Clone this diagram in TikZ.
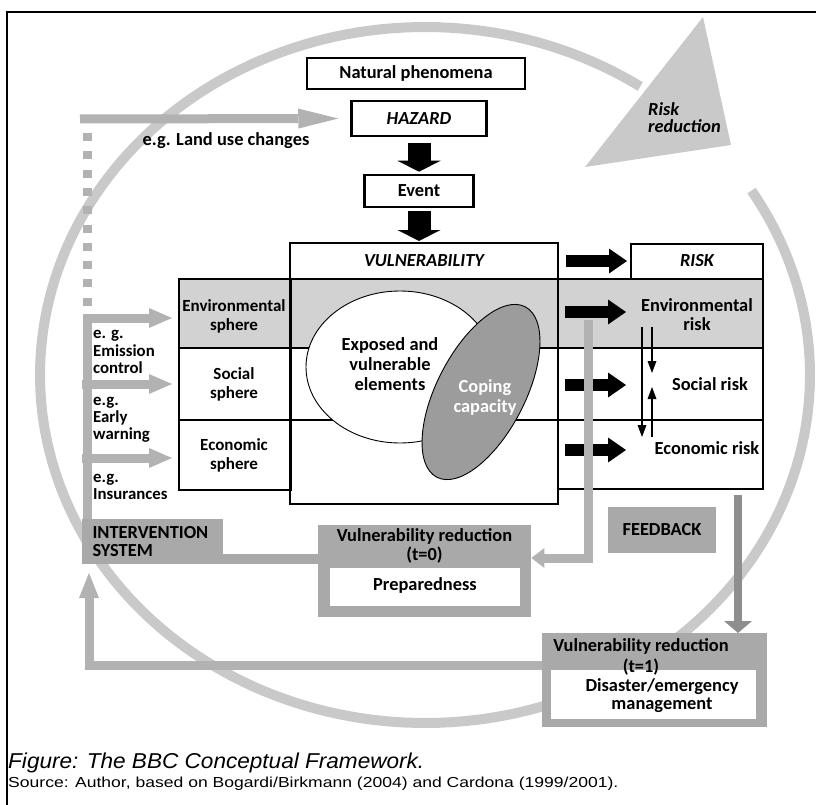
\documentclass[tikz,border=0pt]{standalone}
\usepackage{fontspec}
\setmainfont{Carlito}
\newfontfamily\capfont{Liberation Sans}
\usetikzlibrary{positioning,calc,arrows.meta,shapes.geometric}

\definecolor{cyclegray}{HTML}{C9C9C9}
\definecolor{bandgray}{HTML}{D2D2D2}
\definecolor{boxgray}{HTML}{A9A9A9}
\definecolor{linkgray}{HTML}{B2B2B2}
\definecolor{copegray}{HTML}{9C9C9C}
\definecolor{fbgray}{HTML}{8E8E8E}

\tikzset{
  figfont/.style={font=\fontsize{18.4}{20}\selectfont\bfseries},
  figfontit/.style={font=\fontsize{18.4}{20}\selectfont\bfseries\itshape},
  spherefont/.style={font=\fontsize{17}{19}\selectfont\bfseries},
  labelfont/.style={font=\fontsize{16.8}{17.2}\selectfont\bfseries},
  figbox/.style={draw, line width=1.5pt, fill=white, inner sep=0pt},
  figboxthick/.style={figbox, line width=2.5pt},
  figframe/.style={draw, line width=2pt, inner sep=0pt, anchor=north west},
  figgraybox/.style={fill=boxgray, inner sep=0pt},
  figarrowblack/.style={line width=23pt, -{Triangle[length=11pt,width=43pt,line width=0pt]}},
  figarrowside/.style={line width=12pt, -{Triangle[length=18pt,width=25pt,line width=0pt]}},
  figarrowgray/.style={draw=linkgray, line width=9pt, -{Triangle[length=23pt,width=20pt,line width=0pt]}},
  figarrowthin/.style={line width=2pt, -{Triangle[length=12pt,width=9pt,line width=0pt]}},
}

\begin{document}
\begin{tikzpicture}[x=1pt, y=-1pt, figfont]
  \useasboundingbox (0,0) rectangle (816,805);
  % Frame
  \draw[line width=1.6pt] (816,12) -- (7,12) -- (7,805);

  % Risk reduction cycle
  \draw[cyclegray, line width=10pt] plot[domain=56:392, samples=200] ({425+385*cos(\x)}, {375-348*sin(\x)});
  \fill[cyclegray] (703,17) -- (585,167) -- (731,145) -- cycle;
  \node[align=left, anchor=west, inner sep=0pt, font=\fontsize{18.4}{17}\selectfont\bfseries\itshape] (riskred) at (648,118) {Risk\\reduction};

  % Hazard chain
  \node[figbox, minimum width=218pt, minimum height=31pt] (nat) at (416,73.5) {Natural phenomena};
  \node[figboxthick, figfontit, minimum width=135pt, minimum height=35pt] (haz) at (419,118.5) {HAZARD};
  \node[figboxthick, minimum width=109pt, minimum height=32pt] (event) at (419,191) {Event};

  % Spheres, vulnerability and risk columns
  \fill[bandgray] (178,278) rectangle (762,348);
  \draw[line width=1.2pt] (178,348) -- (762,348) (178,420) -- (762,420);
  \node[figframe, minimum width=112pt, minimum height=211pt] (sph) at (178,278) {};
  \node[figframe, fill=white, figfontit, minimum width=268pt, minimum height=36pt] (vulhead) at (289,242) {VULNERABILITY};
  \node[figframe, minimum width=268pt, minimum height=225pt] (vul) at (289,278) {};
  \node[figframe, minimum width=205pt, minimum height=210pt] (risk) at (557,278) {};
  \node[figframe, fill=white, figfontit, minimum width=132pt, minimum height=35pt] (riskhead) at (630,242.5) {RISK};

  \node[spherefont, align=center] (envsph) at (234,316) {Environmental\\sphere};
  \node[spherefont, align=center] (socsph) at (234,384) {Social\\sphere};
  \node[spherefont, align=center] (ecosph) at (234,455) {Economic\\sphere};

  % Exposure and coping
  \node[ellipse, draw, fill=white, line width=0.9pt, inner sep=0pt, minimum width=188pt, minimum height=152pt] (expo) at (400,367) {};
  \node[ellipse, draw, fill=copegray, line width=0.9pt, inner sep=0pt, minimum width=192pt, minimum height=88pt, rotate=62.6] (cope) at (481,392) {};
  \node[align=center] (expotext) at (390,364) {Exposed and\\vulnerable\\elements};
  \node[align=center, text=white] (copetext) at (485,397) {Coping\\capacity};

  \node[align=center, font=\fontsize{18.4}{19}\selectfont\bfseries] (envrisk) at (697,315) {Environmental\\risk};
  \node (socrisk) at (710,384) {Social risk};
  \node (ecorisk) at (707,448) {Economic risk};

  % Black arrows
  \draw[figarrowblack, shorten <=6pt, shorten >=2pt] (haz) -- (event);
  \draw[figarrowblack, shorten <=3pt, shorten >=1pt] (event.south) -- (event.south |- vulhead.north);
  \draw[figarrowside, shorten <=7pt, shorten >=3pt] (vulhead) -- (riskhead);
  \foreach \y in {312,385,450}
    \draw[figarrowside] (565,\y) -- (626,\y);
  \draw[figarrowthin] (642,327) -- (642,437);
  \draw[figarrowthin] (652,327) -- (652,373);
  \draw[figarrowthin] (652,437) -- (652,387);

  % Intervention system
  \draw[linkgray, line width=9pt, dash pattern=on 8pt off 10.3pt] (87,133) -- (87,307);
  \draw[figarrowgray, -{Triangle[length=40pt,width=20pt,line width=0pt]}] (80,119) -- ([xshift=-12pt]haz.west);
  \node (landuse) at (226,141) {e.g. Land use changes};
  \draw[figarrowgray] (87,519) -- (87,318) -- (172,318);
  \draw[figarrowgray] (82,384) -- (172,384);
  \draw[figarrowgray] (82,458) -- (172,458);
  \node[labelfont, align=left, anchor=west, inner sep=1pt] (egem) at (92,352) {e. g.\\Emission\\control};
  \node[labelfont, align=left, anchor=west, inner sep=1pt] (egew) at (92,420) {e.g.\\Early\\warning};
  \node[labelfont, align=left, anchor=west, inner sep=1pt] (egin) at (92,487) {e.g.\\Insurances};

  \node[figgraybox, anchor=north west, minimum width=141pt, minimum height=45pt] (intv) at (82,519) {};
  \node[align=left, anchor=west, font=\fontsize{18.4}{18}\selectfont\bfseries] (intvtext) at (89,542) {INTERVENTION\\SYSTEM};
  \fill[boxgray] (222,554) rectangle (319,564);

  % Vulnerability reduction t=0
  \node[figgraybox, anchor=north west, minimum width=213pt, minimum height=92pt] (vr0) at (318,525) {};
  \node[fill=white, inner sep=0pt, anchor=north west, minimum width=190pt, minimum height=38pt] (prep) at (330,568) {};
  \node (preptext) at (425,585) {Preparedness};
  \node[align=center, font=\fontsize{18.4}{19}\selectfont\bfseries] (vr0text) at (424.5,546) {Vulnerability reduction\\(t=0)};
  \draw[figarrowgray, -{Triangle[length=13pt,width=20pt,line width=0pt]}] (588,320) -- (588,558) -- (vr0.east |- 0,558);

  % Feedback
  \node[figgraybox, minimum width=108pt, minimum height=46pt] (fb) at (662,530) {FEEDBACK};

  % Vulnerability reduction t=1
  \draw[figarrowgray, -{Triangle[length=25pt,width=20pt,line width=0pt]}] (545,665) -| (89,573);
  \node[figgraybox, anchor=north west, minimum width=225pt, minimum height=94pt] (vr1) at (542,633) {};
  \node[fill=white, inner sep=0pt, anchor=north west, minimum width=205pt, minimum height=49pt] (dem) at (551,670) {};
  \node[align=center, font=\fontsize{18.4}{21}\selectfont\bfseries] (vr1text) at (641,656.5) {Vulnerability reduction\\(t=1)};
  \node[align=center, font=\fontsize{18.4}{18}\selectfont\bfseries] (demtext) at (662,696) {Disaster/emergency\\management};
  \draw[fbgray, line width=8pt, shorten <=5pt, -{Triangle[length=12pt,width=28pt,line width=0pt]}] (risk.south -| 738,0) -- (vr1.north -| 738,0);

  % Caption
  \node[font={\normalfont\capfont\fontsize{21.5}{24}\selectfont\itshape\addfontfeature{FakeStretch=1.05}}, anchor=base west, inner sep=0pt] (caption) at (8,768) {Figure: The BBC Conceptual Framework.};
  \node[font={\normalfont\capfont\fontsize{14.5}{16}\selectfont\addfontfeature{FakeStretch=1.21}}, anchor=base west, inner sep=0pt] (source) at (8,787) {Source: Author, based on Bogardi/Birkmann (2004) and Cardona (1999/2001).};
\end{tikzpicture}
\end{document}
